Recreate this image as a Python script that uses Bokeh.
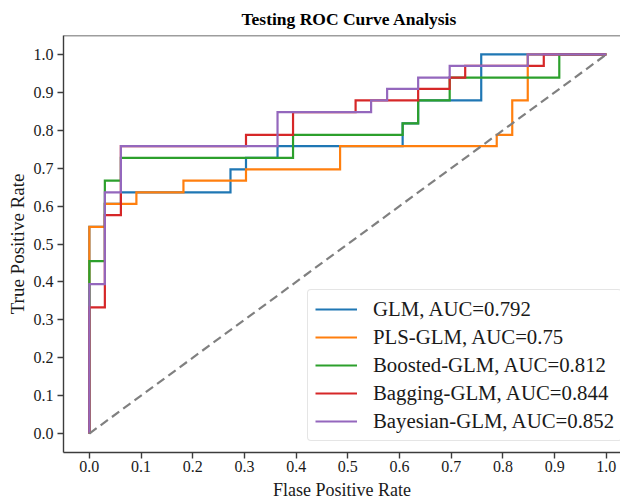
from bokeh.plotting import figure
from bokeh.models import Legend, LegendItem, Range1d, FixedTicker, Span
from bokeh.embed import file_html
from bokeh.resources import INLINE

# ---------------- data ----------------
models = ["GLM", "PLS-GLM", "Boosted-GLM", "Bagging-GLM", "Bayesian-GLM"]
auc_labels = ["0.792", "0.75", "0.812", "0.844", "0.852"]
colors = ["#1f77b4", "#ff7f0e", "#2ca02c", "#d62728", "#9467bd"]

glm_fpr = [0.0, 0.0, 0.030, 0.030, 0.061, 0.061, 0.273, 0.273, 0.303, 0.303,
           0.364, 0.364, 0.606, 0.606, 0.636, 0.636, 0.758, 0.758, 1.0]
glm_tpr = [0.0, 0.545, 0.545, 0.606, 0.606, 0.636, 0.636, 0.697, 0.697, 0.727,
           0.727, 0.758, 0.758, 0.818, 0.818, 0.879, 0.879, 1.0, 1.0]

pls_fpr = [0.0, 0.0, 0.030, 0.030, 0.091, 0.091, 0.182, 0.182, 0.303, 0.303,
           0.485, 0.485, 0.788, 0.788, 0.818, 0.818, 0.848, 0.848, 1.0]
pls_tpr = [0.0, 0.545, 0.545, 0.606, 0.606, 0.636, 0.636, 0.667, 0.667, 0.697,
           0.697, 0.758, 0.758, 0.788, 0.788, 0.879, 0.879, 1.0, 1.0]

boost_fpr = [0.0, 0.0, 0.030, 0.030, 0.061, 0.061, 0.394, 0.394, 0.606, 0.606,
             0.636, 0.636, 0.697, 0.697, 0.909, 0.909, 1.0]
boost_tpr = [0.0, 0.455, 0.455, 0.667, 0.667, 0.727, 0.727, 0.788, 0.788, 0.818,
             0.818, 0.879, 0.879, 0.939, 0.939, 1.0, 1.0]

bag_fpr = [0.0, 0.0, 0.030, 0.030, 0.061, 0.061, 0.303, 0.303, 0.394, 0.394,
           0.515, 0.515, 0.636, 0.636, 0.697, 0.697, 0.727, 0.727, 0.879, 0.879, 1.0]
bag_tpr = [0.0, 0.333, 0.333, 0.576, 0.576, 0.758, 0.758, 0.788, 0.788, 0.848,
           0.848, 0.879, 0.879, 0.909, 0.909, 0.939, 0.939, 0.970, 0.970, 1.0, 1.0]

bayes_fpr = [0.0, 0.0, 0.030, 0.030, 0.061, 0.061, 0.364, 0.364, 0.545, 0.545,
             0.576, 0.576, 0.636, 0.636, 0.697, 0.697, 0.848, 0.848, 1.0]
bayes_tpr = [0.0, 0.394, 0.394, 0.636, 0.636, 0.758, 0.758, 0.848, 0.848, 0.879,
             0.879, 0.909, 0.909, 0.939, 0.939, 0.970, 0.970, 1.0, 1.0]

diag_x = [0.0, 1.0]
diag_y = [0.0, 1.0]

tick_values = [0.0, 0.1, 0.2, 0.3, 0.4, 0.5, 0.6, 0.7, 0.8, 0.9, 1.0]
tick_labels = ["0.0", "0.1", "0.2", "0.3", "0.4", "0.5", "0.6", "0.7", "0.8", "0.9", "1.0"]

title_text = "Testing ROC Curve Analysis"
x_label = "Flase Positive Rate"
y_label = "True Positive Rate"

# ---------------- figure ----------------
FONT = "Liberation Serif"
SPINE = "#3c3c3c"
TXT = "#1a1a1a"

p = figure(width=620, height=502, output_backend="svg", toolbar_location=None,
           x_range=Range1d(-0.05, 1.0274), y_range=Range1d(-0.05, 1.05),
           min_border_left=63, min_border_right=0, min_border_top=32,
           min_border_bottom=48)
p.background_fill_color = "white"
p.border_fill_color = "white"
p.outline_line_color = None
p.grid.visible = False

p.title.text = title_text
p.title.text_font = FONT
p.title.text_font_style = "bold"
p.title.text_font_size = "17.5px"
p.title.text_color = "#000000"
p.title.align = "left"
p.title.offset = 178
p.title.standoff = 13

for ax in (p.xaxis[0], p.yaxis[0]):
    ax.ticker = FixedTicker(ticks=tick_values)
    ax.major_label_overrides = {v: s for v, s in zip(tick_values, tick_labels)}
    ax.major_label_text_font = FONT
    ax.major_label_text_font_size = "16px"
    ax.major_label_text_color = TXT
    ax.axis_label_text_font = FONT
    ax.axis_label_text_font_style = "normal"
    ax.axis_label_text_color = TXT
    ax.axis_line_color = SPINE
    ax.axis_line_width = 1.4
    ax.major_tick_line_color = SPINE
    ax.major_tick_line_width = 1.4
    ax.major_tick_out = 6
    ax.major_tick_in = 0
    ax.minor_tick_line_color = None

p.xaxis.axis_label = x_label
p.yaxis.axis_label = y_label
p.xaxis.axis_label_text_font_size = "18px"
p.yaxis.axis_label_text_font_size = "19px"
p.xaxis.major_label_standoff = 2
p.xaxis.axis_label_standoff = 5
p.yaxis.major_label_standoff = 4
p.yaxis.axis_label_standoff = 3

# top spine
p.add_layout(Span(location=p.y_range.end, dimension="width",
                  line_color=SPINE, line_width=1.4))

series = [(glm_fpr, glm_tpr), (pls_fpr, pls_tpr), (boost_fpr, boost_tpr),
          (bag_fpr, bag_tpr), (bayes_fpr, bayes_tpr)]
renderers = []
for (fx, ty), c in zip(series, colors):
    r = p.line(fx, ty, line_color=c, line_width=2.2, line_join="miter")
    renderers.append(r)

p.line(diag_x, diag_y, line_color="#808080", line_width=2.2, line_dash="9 5")

items = [LegendItem(label=f"{m}, AUC={a}", renderers=[r])
         for m, a, r in zip(models, auc_labels, renderers)]
legend = Legend(items=items, location=(244, 11))
legend.margin = 0
legend.padding = 7
legend.spacing = 4
legend.glyph_width = 42
legend.glyph_height = 20
legend.label_height = 20
legend.label_standoff = 16
legend.label_text_font = FONT
legend.label_text_font_size = "20.8px"
legend.label_text_color = TXT
legend.border_line_color = "#cccccc"
legend.border_line_width = 1
legend.background_fill_color = "white"
legend.background_fill_alpha = 0.8
try:
    legend.border_radius = 4
except Exception:
    pass
p.add_layout(legend)

open("out.html", "w").write(file_html(p, INLINE))
